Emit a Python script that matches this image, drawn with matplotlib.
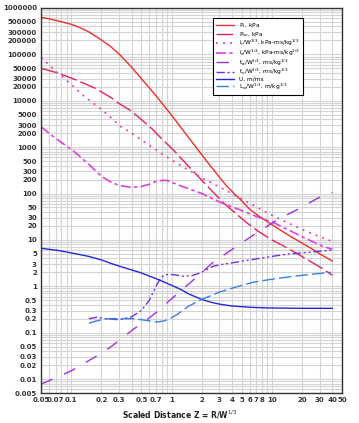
import matplotlib
matplotlib.use("Agg")
import matplotlib.pyplot as plt
from matplotlib.ticker import FixedLocator, LogLocator, NullFormatter

# scaled distance Z and curve values
pr_z = [0.05, 0.06, 0.07, 0.085, 0.1, 0.12, 0.15, 0.2, 0.25, 0.3, 0.4, 0.5, 0.6, 0.73, 0.85, 1.0, 1.2, 1.5,
        1.93, 2.5, 3.0, 3.5, 4.3, 5.0, 6.0, 7.5, 9.5, 12, 15, 19, 23.7, 30, 40]
pr_v = [630000, 585000, 540000, 490000, 445000, 385000, 305000, 205000, 145000, 102000, 53000, 30000, 19000,
        11500, 7600, 4900, 2900, 1550, 760, 370, 225, 150, 95, 70, 46, 32, 23, 16.5, 12.3, 9.1, 6.9, 5.0, 3.5]

pso_z = [0.05, 0.07, 0.1, 0.13, 0.17, 0.2, 0.25, 0.3, 0.38, 0.49, 0.65, 0.8, 1.05, 1.3, 1.65, 2.2, 2.85, 3.5,
         4.5, 6.0, 7.6, 10, 13.4, 18, 25, 32, 40]
pso_v = [50000, 41000, 31000, 24500, 19000, 15500, 11700, 8700, 6400, 4100, 2400, 1500, 860, 520, 300, 155, 87,
         56, 35, 21, 14.5, 10.0, 7.2, 5.0, 3.3, 2.4, 1.73]

ir_z = [0.05, 0.06, 0.07, 0.085, 0.1, 0.135, 0.17, 0.2, 0.25, 0.31, 0.4, 0.49, 0.66, 0.98, 1.44, 2.07, 3.05,
        4.5, 6.5, 9.6, 14, 22, 35, 40]
ir_v = [86000, 60000, 43000, 31000, 22500, 12400, 8500, 6500, 4300, 2800, 2000, 1480, 950, 545, 330, 210, 135,
        87, 56, 35.6, 24, 15.3, 10.3, 9.3]

is_z = [0.05, 0.065, 0.08, 0.1, 0.12, 0.15, 0.175, 0.2, 0.25, 0.3, 0.4, 0.5, 0.6, 0.7, 0.8, 0.9, 1.0, 1.2, 1.54,
        2.0, 3.05, 5.0, 7.0, 10.2, 15, 20, 32, 40]
is_v = [2750, 1750, 1260, 900, 650, 425, 310, 235, 175, 150, 135, 142, 158, 182, 192, 192, 175, 150, 123,
        100, 65, 43, 32, 24, 16, 11.7, 7.3, 6.3]

ta_z = [0.05, 0.1, 0.2, 0.25, 0.42, 0.55, 0.73, 0.91, 1.54, 2.6, 6.5, 11.5, 18.1, 31, 40]
ta_v = [0.0077, 0.015, 0.036, 0.05, 0.12, 0.18, 0.29, 0.45, 1.2, 3.3, 12.6, 27.8, 45.6, 87, 105]

to_z = [0.15, 0.18, 0.22, 0.3, 0.4, 0.5, 0.6, 0.7, 0.78, 0.85, 0.95, 1.1, 1.3, 1.6, 2.0, 2.6, 3.0, 4.0, 6.5,
        10, 14, 25, 40]
to_v = [0.2, 0.215, 0.2, 0.19, 0.22, 0.3, 0.5, 1.0, 1.5, 1.75, 1.82, 1.75, 1.65, 1.7, 2.0, 2.7, 2.9, 3.2, 3.8,
        4.4, 4.9, 5.5, 6.0]

u_z = [0.05, 0.075, 0.107, 0.15, 0.2, 0.25, 0.335, 0.49, 0.73, 1.0, 1.23, 1.47, 2.0, 2.5, 3.05, 4.0, 6.5, 10,
       20, 40]
u_v = [6.6, 5.9, 5.1, 4.4, 3.7, 3.1, 2.53, 1.97, 1.41, 1.05, 0.86, 0.69, 0.52, 0.45, 0.41, 0.375, 0.35, 0.34,
       0.335, 0.335]

lw_z = [0.15, 0.18, 0.23, 0.3, 0.42, 0.55, 0.73, 0.85, 1.0, 1.15, 1.47, 2.0, 3.0, 4.5, 6.5, 10, 15, 25, 39]
lw_v = [0.16, 0.18, 0.2, 0.2, 0.2, 0.185, 0.17, 0.18, 0.21, 0.25, 0.37, 0.52, 0.75, 0.98, 1.22, 1.42, 1.6,
        1.82, 2.0]

x_ticks = [0.05, 0.07, 0.1, 0.2, 0.3, 0.5, 0.7, 1, 2, 3, 4, 5, 6, 7, 8, 10, 20, 30, 40, 50]
x_labels = ["0.05", "0.07", "0.1", "0.2", "0.3", "0.5", "0.7", "1", "2", "3", "4", "5", "6", "7", "8", "10",
            "20", "30", "40", "50"]
y_ticks = [1000000, 500000, 300000, 200000, 100000, 50000, 30000, 20000, 10000, 5000, 3000, 2000,
           1000, 500, 300, 200, 100, 50, 30, 20, 10, 5, 3, 2, 1, 0.5, 0.3, 0.2, 0.1, 0.05, 0.03, 0.02, 0.01, 0.005]
y_labels = ["1000000", "500000", "300000", "200000", "100000", "50000", "30000", "20000", "10000", "5000",
            "3000", "2000", "1000", "500", "300", "200", "100", "50", "30", "20", "10", "5", "3", "2", "1",
            "0.5", "0.3", "0.2", "0.1", "0.05", "0.03", "0.02", "0.01", "0.005"]

fig = plt.figure(figsize=(3.59, 4.23), dpi=100)
ax = fig.add_axes([41 / 359, 30 / 423, 301 / 359, 385 / 423])

ax.plot(pr_z, pr_v, color="#e8302c", lw=1.0, label=r"P$_r$, kPa")
ax.plot(pso_z, pso_v, color="#e0245a", lw=1.0, linestyle=(0, (12, 3)), label=r"P$_{so}$, kPa")
ax.plot(ir_z, ir_v, color="#e040b8", lw=1.2, linestyle=(0, (1.2, 3)), label=r"i$_r$/W$^{1/3}$, kPa-ms/kg$^{1/3}$")
ax.plot(is_z, is_v, color="#e040e0", lw=1.2, linestyle=(0, (6, 2, 2, 2)), label=r"i$_s$/W$^{1/3}$, kPa-ms/kg$^{1/3}$")
ax.plot(ta_z, ta_v, color="#a030e0", lw=1.0, linestyle=(0, (9, 9)), label=r"t$_a$/W$^{1/3}$, ms/kg$^{1/3}$")
ax.plot(to_z, to_v, color="#7030e0", lw=1.0, linestyle=(0, (6, 2, 1.5, 2, 1.5, 2)), label=r"t$_o$/W$^{1/3}$, ms/kg$^{1/3}$")
ax.plot(u_z, u_v, color="#2428d0", lw=1.0, label="U, m/ms")
ax.plot(lw_z, lw_v, color="#3a80e0", lw=1.0, linestyle=(0, (9, 3)), label=r"L$_w$/W$^{1/3}$, m/kg$^{1/3}$")

ax.set_xscale("log")
ax.set_yscale("log")
ax.set_xlim(0.05, 50)
ax.set_ylim(0.005, 1000000)

ax.xaxis.set_major_locator(FixedLocator(x_ticks))
ax.set_xticklabels(x_labels)
ax.xaxis.set_minor_locator(LogLocator(base=10, subs=range(1, 10), numticks=20))
ax.xaxis.set_minor_formatter(NullFormatter())
ax.yaxis.set_major_locator(FixedLocator(y_ticks))
ax.set_yticklabels(y_labels)
ax.yaxis.set_minor_locator(LogLocator(base=10, subs=range(1, 10), numticks=20))
ax.yaxis.set_minor_formatter(NullFormatter())

ax.tick_params(which="both", length=0, labelsize=5, pad=3)
for t in ax.get_xticklabels() + ax.get_yticklabels():
    t.set_fontweight("bold")
    t.set_color("#333333")

ax.grid(True, which="both", color="#d4d4d4", lw=0.8)
ax.set_axisbelow(True)
for s in ax.spines.values():
    s.set_color("#333333")
    s.set_linewidth(1.0)

ax.set_xlabel(r"Scaled Distance Z = R/W$^{1/3}$", fontsize=5.5, fontweight="bold", color="#222222")
ax.xaxis.set_label_coords((179.5 - 41) / 301, -0.04)

leg = ax.legend(loc="upper left", bbox_to_anchor=(0.571, 0.974), fontsize=4.2, frameon=True,
                fancybox=False, edgecolor="black", framealpha=1, handlelength=3.0,
                borderpad=0.6, labelspacing=-0.1, handletextpad=0.8, borderaxespad=0)
leg.get_frame().set_linewidth(0.8)

fig.savefig("out.png", dpi=100)
